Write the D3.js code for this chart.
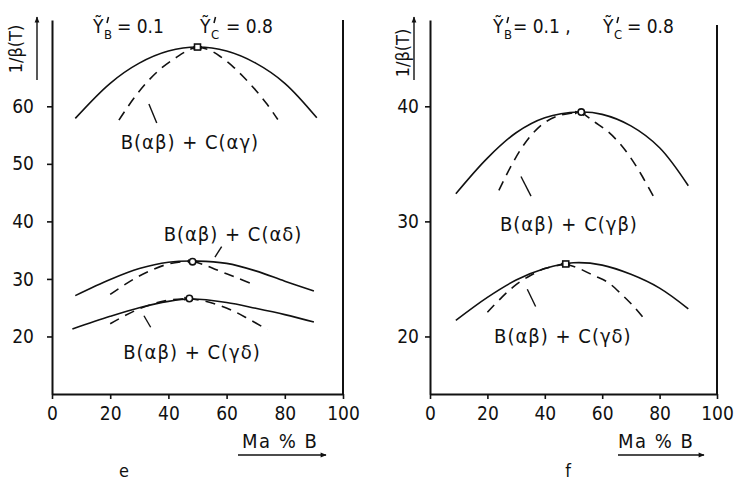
<!DOCTYPE html>
<html>
<head>
<meta charset="utf-8">
<script src="https://cdn.jsdelivr.net/npm/d3@7"></script>
<style>
  body { margin: 0; background: #fff; }
  svg text { font-family: "DejaVu Sans Condensed", "Liberation Sans Narrow", "DejaVu Sans", sans-serif; fill: #111; }
</style>
</head>
<body>
<div id="chart"></div>
<script>
// ---- data (x = Ma % B, y = 1/beta(T)) ----
var xTicks = [0, 20, 40, 60, 80, 100];
var eYTicks = [20, 30, 40, 50, 60];
var fYTicks = [20, 30, 40];

// panel e
var eAGsolid = [[8,57.9],[20,64.0],[30,67.5],[40,69.6],[50,70.3],[60,69.6],[70,67.5],[80,64.0],[91,58.0]];
var eAGdashL = [[23,57.6],[28,61.3],[33,64.4],[38,66.8],[43,68.6],[47,69.8],[50,70.3]];
var eAGdashR = [[50,70.3],[54,69.8],[58,68.6],[62,67.0],[66,65.0],[70,62.8],[74,60.3],[77.6,57.7]];
var eADsolid = [[8,27.1],[20,29.9],[30,31.8],[40,32.9],[50,33.1],[60,32.7],[70,31.4],[80,29.6],[90,27.9]];
var eADdashL = [[20,27.3],[25,29.0],[30,30.5],[35,31.7],[40,32.6],[45,33.0],[48.3,33.1]];
var eADdashR = [[48.3,33.1],[52,32.5],[56,31.7],[60,30.9],[64,30.1],[68,29.3]];
var eGDsolid = [[7,21.3],[20,23.5],[30,25.0],[40,26.1],[48,26.5],[60,25.9],[70,24.9],[80,23.8],[90,22.5]];
var eGDdashL = [[20,22.2],[25,23.6],[30,24.8],[35,25.7],[40,26.3],[47,26.6]];
var eGDdashR = [[47,26.6],[52,26.2],[57,25.5],[62,24.5],[67,23.2],[74,21.2]];
var ePeaks = [[50,70.3,"square"],[48.3,33.0,"circle"],[47.2,26.6,"circle"]];

// panel f
var fGBsolid = [[9,32.4],[20,35.5],[30,37.7],[40,39.0],[52,39.5],[60,39.3],[70,38.3],[80,36.4],[90,33.1]];
var fGBdashL = [[24,32.7],[28,34.7],[32,36.4],[36,37.7],[40,38.6],[45,39.2],[52,39.5]];
var fGBdashR = [[52.7,39.5],[57,38.7],[62,37.8],[66,36.8],[70,35.5],[74,33.9],[78,32.1]];
var fGDsolid = [[9,21.4],[20,23.4],[30,24.9],[40,25.9],[50,26.4],[60,26.2],[70,25.4],[80,24.2],[90,22.4]];
var fGDdashL = [[20,22.1],[25,23.4],[30,24.5],[35,25.3],[40,25.9],[47.3,26.3]];
var fGDdashR = [[47.3,26.3],[52,25.9],[57,25.3],[62,24.7],[67,23.6],[71,22.6],[74.4,21.6]];
var fPeaks = [[52.7,39.5,"circle"],[47.3,26.3,"square"]];

var W = 734, H = 482;

var svg = d3.select("#chart").append("svg")
  .attr("width", W)
  .attr("height", H);

var defs = svg.append("defs");
defs.append("marker")
  .attr("id", "tip")
  .attr("viewBox", "0 0 10 10")
  .attr("refX", 9).attr("refY", 5)
  .attr("markerWidth", 5).attr("markerHeight", 5)
  .attr("markerUnits", "userSpaceOnUse")
  .attr("orient", "auto-start-reverse")
  .append("path").attr("d", "M0,1L10,5L0,9Z").attr("fill", "#111");
defs.append("marker")
  .attr("id", "bigtip")
  .attr("viewBox", "0 0 10 10")
  .attr("refX", 9).attr("refY", 5)
  .attr("markerWidth", 12).attr("markerHeight", 6)
  .attr("markerUnits", "userSpaceOnUse")
  .attr("orient", "auto")
  .append("path").attr("d", "M0,1L10,5L0,9Z").attr("fill", "#111");

var panels = [
  {
    left: 52, right: 343, top: 20, bottom: 394, borderTop: 20, yDomain: [10, 75],
    yTicks: eYTicks, yPad: 13,
    curves: [
      {solid: eAGsolid, dashL: eAGdashL, dashR: eAGdashR},
      {solid: eADsolid, dashL: eADdashL, dashR: eADdashR},
      {solid: eGDsolid, dashL: eGDdashL, dashR: eGDdashR}
    ],
    peaks: ePeaks,
    labels: [
      {text: "B(αβ) + C(αγ)", at: [47.4, 52.6], lead: [[33.3, 60.4], [36.0, 57.1]]},
      {text: "B(αβ) + C(αδ)", at: [62.2, 36.6], lead: [[56.0, 33.8], [58.3, 35.6]]},
      {text: "B(αβ) + C(γδ)", at: [48.1, 16.1], lead: [[31.6, 23.6], [33.9, 21.6]]}
    ],
    yLabelX: 22, yLabelY: 49, yArrowX: 37,
    xLabelX: 242, arrowX: [238, 326],
    letter: "e", letterX: 124
  },
  {
    left: 430, right: 717, top: 20, bottom: 394, borderTop: 25, yDomain: [15, 47.5],
    yTicks: fYTicks, yPad: 6,
    curves: [
      {solid: fGBsolid, dashL: fGBdashL, dashR: fGBdashR},
      {solid: fGDsolid, dashL: fGDdashL, dashR: fGDdashR}
    ],
    peaks: fPeaks,
    labels: [
      {text: "B(αβ) + C(γβ)", at: [48.4, 29.2], lead: [[31.7, 33.9], [35.2, 32.2]]},
      {text: "B(αβ) + C(γδ)", at: [46.3, 19.4], lead: [[33.9, 24.1], [36.8, 22.6]]}
    ],
    yLabelX: 409, yLabelY: 53, yArrowX: 414,
    xLabelX: 618, arrowX: [618, 704],
    letter: "f", letterX: 568
  }
];

function styleAxis(sel) {
  sel.attr("font-family", null).attr("font-size", 19);
  sel.select(".domain").attr("stroke", "#111").attr("stroke-width", 2);
  sel.selectAll(".tick line").attr("stroke", "#111").attr("stroke-width", 1.6);
  sel.selectAll(".tick text").attr("fill", "#111");
}

panels.forEach(function(p) {
  var x = d3.scaleLinear().domain([0, 100]).range([p.left, p.right]);
  var y = d3.scaleLinear().domain(p.yDomain).range([p.bottom, p.top]);
  var g = svg.append("g");

  g.append("g")
    .attr("transform", "translate(0," + p.bottom + ")")
    .call(d3.axisBottom(x).tickValues(xTicks).tickSize(5).tickSizeOuter(0).tickPadding(8))
    .call(styleAxis);

  g.append("g")
    .attr("transform", "translate(" + p.left + ",0)")
    .call(d3.axisLeft(y).tickValues(p.yTicks).tickSize(5).tickSizeOuter(0).tickPadding(p.yPad))
    .call(styleAxis);

  g.append("line")
    .attr("x1", x(100)).attr("x2", x(100))
    .attr("y1", p.borderTop).attr("y2", p.bottom + 1)
    .attr("stroke", "#111").attr("stroke-width", 2);

  var line = d3.line()
    .x(function(d) { return x(d[0]); })
    .y(function(d) { return y(d[1]); })
    .curve(d3.curveCatmullRom);

  p.curves.forEach(function(c) {
    g.append("path").attr("d", line(c.solid))
      .attr("fill", "none").attr("stroke", "#111").attr("stroke-width", 1.6);
    g.append("path").attr("d", line(c.dashL))
      .attr("fill", "none").attr("stroke", "#111").attr("stroke-width", 1.6)
      .attr("stroke-dasharray", "10,7").attr("marker-end", "url(#tip)");
    g.append("path").attr("d", line(c.dashR))
      .attr("fill", "none").attr("stroke", "#111").attr("stroke-width", 1.6)
      .attr("stroke-dasharray", "10,7").attr("marker-start", "url(#tip)");
  });

  p.peaks.forEach(function(d) {
    if (d[2] === "square") {
      g.append("rect")
        .attr("x", x(d[0]) - 3).attr("y", y(d[1]) - 3)
        .attr("width", 6).attr("height", 6)
        .attr("fill", "#fff").attr("stroke", "#111").attr("stroke-width", 1.6);
    } else {
      g.append("circle")
        .attr("cx", x(d[0])).attr("cy", y(d[1])).attr("r", 3.2)
        .attr("fill", "#fff").attr("stroke", "#111").attr("stroke-width", 1.6);
    }
  });

  p.labels.forEach(function(l) {
    g.append("line")
      .attr("x1", x(l.lead[0][0])).attr("y1", y(l.lead[0][1]))
      .attr("x2", x(l.lead[1][0])).attr("y2", y(l.lead[1][1]))
      .attr("stroke", "#111").attr("stroke-width", 1.4);
    g.append("text")
      .attr("x", x(l.at[0])).attr("y", y(l.at[1]))
      .attr("text-anchor", "middle")
      .attr("font-size", 20)
      .style("letter-spacing", "1px")
      .text(l.text);
  });

  // y axis title with arrow
  g.append("text")
    .attr("transform", "translate(" + p.yLabelX + "," + p.yLabelY + ") rotate(-90)")
    .attr("text-anchor", "middle")
    .attr("font-size", 18)
    .text("1/β(T)");
  g.append("line")
    .attr("x1", p.yArrowX).attr("x2", p.yArrowX)
    .attr("y1", 80).attr("y2", 17)
    .attr("stroke", "#111").attr("stroke-width", 1.4)
    .attr("marker-end", "url(#bigtip)");

  // x axis title with arrow
  g.append("text")
    .attr("x", p.xLabelX).attr("y", 448)
    .attr("font-size", 20)
    .style("letter-spacing", "1.5px")
    .attr("xml:space", "preserve")
    .text("Ma % B");
  g.append("line")
    .attr("x1", p.arrowX[0]).attr("x2", p.arrowX[1])
    .attr("y1", 455).attr("y2", 455)
    .attr("stroke", "#111").attr("stroke-width", 1.6)
    .attr("marker-end", "url(#bigtip)");

  g.append("text")
    .attr("x", p.letterX).attr("y", 477)
    .attr("text-anchor", "middle")
    .attr("font-size", 18)
    .text(p.letter);
});

// parameter captions at the top of each panel: Y-tilde, subscript, prime stroke
function yTilde(x0, sub, rest, restX) {
  var g = svg.append("g");
  g.append("text").attr("x", x0).attr("y", 33).attr("font-size", 19).text("Ỹ");
  g.append("text").attr("x", x0 + 11).attr("y", 39).attr("font-size", 13).text(sub);
  // prime drawn as a short stroke above the subscript
  g.append("line")
    .attr("x1", x0 + 15.5).attr("y1", 17)
    .attr("x2", x0 + 14).attr("y2", 23)
    .attr("stroke", "#111").attr("stroke-width", 1.6);
  g.append("text").attr("x", restX).attr("y", 33).attr("font-size", 19)
    .attr("xml:space", "preserve").text(rest);
}
yTilde(93, "B", "= 0.1", 117);
yTilde(200, "C", "= 0.8", 226);
yTilde(493, "B", "= 0.1 ,", 513);
yTilde(603, "C", "= 0.8", 627);
</script>
</body>
</html>
